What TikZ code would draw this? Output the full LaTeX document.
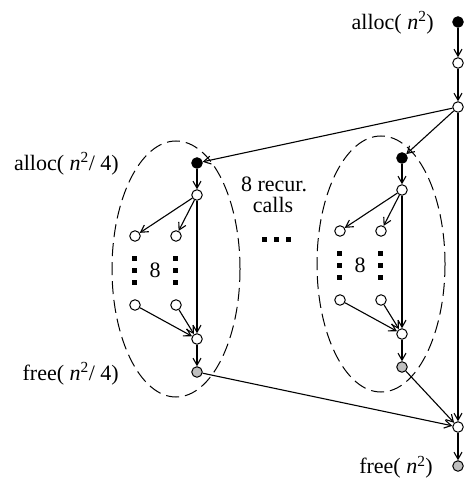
\documentclass[tikz,border=0pt]{standalone}
\usepackage{fontspec}
\setmainfont{Liberation Serif}
\usetikzlibrary{arrows.meta}

\newcommand{\nsq}{\textit{n}\textsuperscript{2}}

\tikzset{
  pt/.style={circle,draw,line width=1pt,minimum size=10.5pt,inner sep=0pt},
  blackpt/.style={pt,fill=black},
  whitept/.style={pt,fill=white},
  graypt/.style={pt,fill=black!25},
  lbl/.style={font=\fontsize{22}{26}\selectfont,inner sep=0pt},
  sq/.style={fill=black,minimum size=5pt,inner sep=0pt},
  edge/.style={->,line width=1.1pt},
}

\begin{document}
\begin{tikzpicture}[x=1pt,y=-1pt,>={Straight Barb[length=7pt,width=8pt]}]
            \useasboundingbox (0,0) rectangle (467,478);

            % main column
            \node[blackpt] (top) at (458,22) {};
            \node[whitept] (t2) at (458,63) {};
            \node[whitept] (t3) at (458,107) {};
            \node[whitept] (mm) at (458,427) {};
            \node[graypt] (end) at (458,466) {};

            \node[lbl,anchor=east] (lalloc) at (434,23) {alloc( \nsq)};
            \node[lbl,anchor=east] (lfree) at (433,467) {free( \nsq)};

            % the two recursive calls
            \foreach \s/\dx/\dy in {L/0/0, R/205/-5} {
              \begin{scope}[shift={(\dx,\dy)}]
                \draw[line width=1pt,dash pattern=on 13pt off 6pt]
                  (176,269) ellipse [x radius=64, y radius=128];

                \node[blackpt] (\s b) at (197,163) {};
                \node[whitept] (\s w) at (197,195) {};
                \node[whitept] (\s a) at (135,236) {};
                \node[whitept] (\s c) at (176,236) {};
                \node[whitept] (\s d) at (135,305) {};
                \node[whitept] (\s e) at (176,305) {};
                \node[whitept] (\s m) at (197,339) {};
                \node[graypt] (\s g) at (197,372) {};

                \foreach \y in {258,270,282} {
                  \node[sq] at (134,\y) {};
                  \node[sq] at (175,\y) {};
                }
                \node[lbl] (\s n) at (155,270) {8};

                \draw[edge] (\s b) -- (\s w);
                \draw[edge] (\s w) -- (\s a);
                \draw[edge] (\s w) -- (\s c);
                \draw[edge] (\s w) -- (\s m);
                \draw[edge] (\s d) -- (\s m);
                \draw[edge] (\s e) -- (\s m);
                \draw[edge] (\s m) -- (\s g);
              \end{scope}
            }

            \node[lbl,anchor=east] (lallocq) at (119,164) {alloc( \nsq/ 4)};
            \node[lbl,anchor=east] (lfreeq) at (119,374) {free( \nsq/ 4)};

            \node[lbl] (lrec) at (274,184) {8 recur.};
            \node[lbl] (lcalls) at (273,205) {calls};
            \foreach \x in {264,276,288}
              \node[sq] at (\x,239) {};

            \draw[edge] (top) -- (t2);
            \draw[edge] (t2) -- (t3);
            \draw[edge] (t3) -- (Lb);
            \draw[edge] (t3) -- (Rb);
            \draw[edge] (t3) -- (mm);
            \draw[edge] (Lg) -- (mm);
            \draw[edge] (Rg) -- (mm);
            \draw[edge] (mm) -- (end);
        \end{tikzpicture}
\end{document}
